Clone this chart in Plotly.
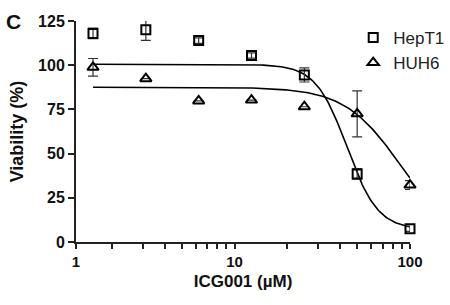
import numpy as np
import plotly.graph_objects as go

# ---- data ----
doses = [1.5625, 3.125, 6.25, 12.5, 25, 50, 100]
hept1_mean = [118, 120, 113.9, 105.5, 94.5, 38.5, 7.5]
hept1_err = [3, 6, 1.5, 1.5, 4, 3, 1.5]
huh6_mean = [98.8, 92.4, 79.8, 80.3, 76.5, 72.5, 32.2]
huh6_err = [5, 0, 0, 0, 0, 13, 2.5]

# fitted 4-parameter logistic parameters (top, bottom, IC50, hill)
hept1_fit = dict(top=100.5, bottom=7.0, ic50=43.7, hill=4.89)
huh6_fit = dict(top=87.5, bottom=0.0, ic50=87.9, hill=2.73)

x_major = [1.25, 10, 100]
x_major_text = ["1", "10", "100"]
x_minor = [2, 3, 4, 5, 6, 7, 8, 9, 20, 30, 40, 50, 60, 70, 80, 90]
y_tickvals = [0, 25, 50, 75, 100, 125]

x_tickvals = x_major + x_minor
x_ticktext = x_major_text + [""] * len(x_minor)


def logistic(x, p):
    x = np.asarray(x, dtype=float)
    return p["bottom"] + (p["top"] - p["bottom"]) / (1 + (x / p["ic50"]) ** p["hill"])


xs = np.logspace(np.log10(doses[0]), np.log10(doses[-1]), 200)

FONT = "Liberation Sans, Arial, Helvetica, sans-serif"

fig = go.Figure()
fig.add_trace(go.Scatter(x=xs, y=logistic(xs, hept1_fit), mode="lines",
                         line=dict(color="black", width=1.6), showlegend=False,
                         hoverinfo="skip", cliponaxis=False))
fig.add_trace(go.Scatter(x=xs, y=logistic(xs, huh6_fit), mode="lines",
                         line=dict(color="black", width=1.6), showlegend=False,
                         hoverinfo="skip", cliponaxis=False))
fig.add_trace(go.Scatter(
    x=doses, y=hept1_mean, mode="markers", name="HepT1",
    marker=dict(symbol="square-open", size=9, color="black", line=dict(width=2, color="black")),
    error_y=dict(type="data", array=hept1_err, visible=True, color="#333", thickness=1.2, width=5),
    cliponaxis=False, legendgroup="a"))
fig.add_trace(go.Scatter(
    x=doses, y=huh6_mean, mode="markers", name="HUH6",
    marker=dict(symbol="triangle-up-open", size=10, color="black", line=dict(width=2, color="black")),
    error_y=dict(type="data", array=huh6_err, visible=True, color="#333", thickness=1.2, width=5),
    cliponaxis=False, legendgroup="b"))

fig.update_layout(
    width=450, height=305,
    margin=dict(l=76, r=40, t=21, b=63, autoexpand=False),
    paper_bgcolor="white", plot_bgcolor="white",
    font=dict(family=FONT, color="#111"),
    showlegend=True,
    legend=dict(x=0.83, y=1.005, xanchor="left", yanchor="top",
                font=dict(family=FONT, size=17, color="#222"),
                bgcolor="rgba(0,0,0,0)", tracegroupgap=8, traceorder="normal"),
    xaxis=dict(type="log", range=[np.log10(1.25), 2],
               tickmode="array", tickvals=x_tickvals, ticktext=x_ticktext,
               ticks="outside", ticklen=5, tickwidth=1.5, tickcolor="#222",
               showline=True, linewidth=2, linecolor="#222", showgrid=False, zeroline=False,
               tickfont=dict(family=FONT, size=15, weight="bold", color="#111"),
               title=dict(text="ICG001 (µM)", standoff=6,
                          font=dict(family=FONT, size=17, weight="bold", color="#111"))),
    yaxis=dict(range=[0, 125], tickmode="array", tickvals=y_tickvals,
               ticks="outside", ticklen=6, tickwidth=2, tickcolor="#222",
               showline=True, linewidth=2, linecolor="#222", showgrid=False, zeroline=False,
               tickfont=dict(family=FONT, size=16, weight="bold", color="#111"),
               title=dict(text="Viability (%)", standoff=10,
                          font=dict(family=FONT, size=18, weight="bold", color="#111"))),
    annotations=[dict(text="C", x=-0.186, y=1.0, xref="paper", yref="paper",
                      xanchor="center", yanchor="middle", showarrow=False,
                      font=dict(family=FONT, size=21, weight="bold", color="#111"))],
)

fig.write_html("out.html")
